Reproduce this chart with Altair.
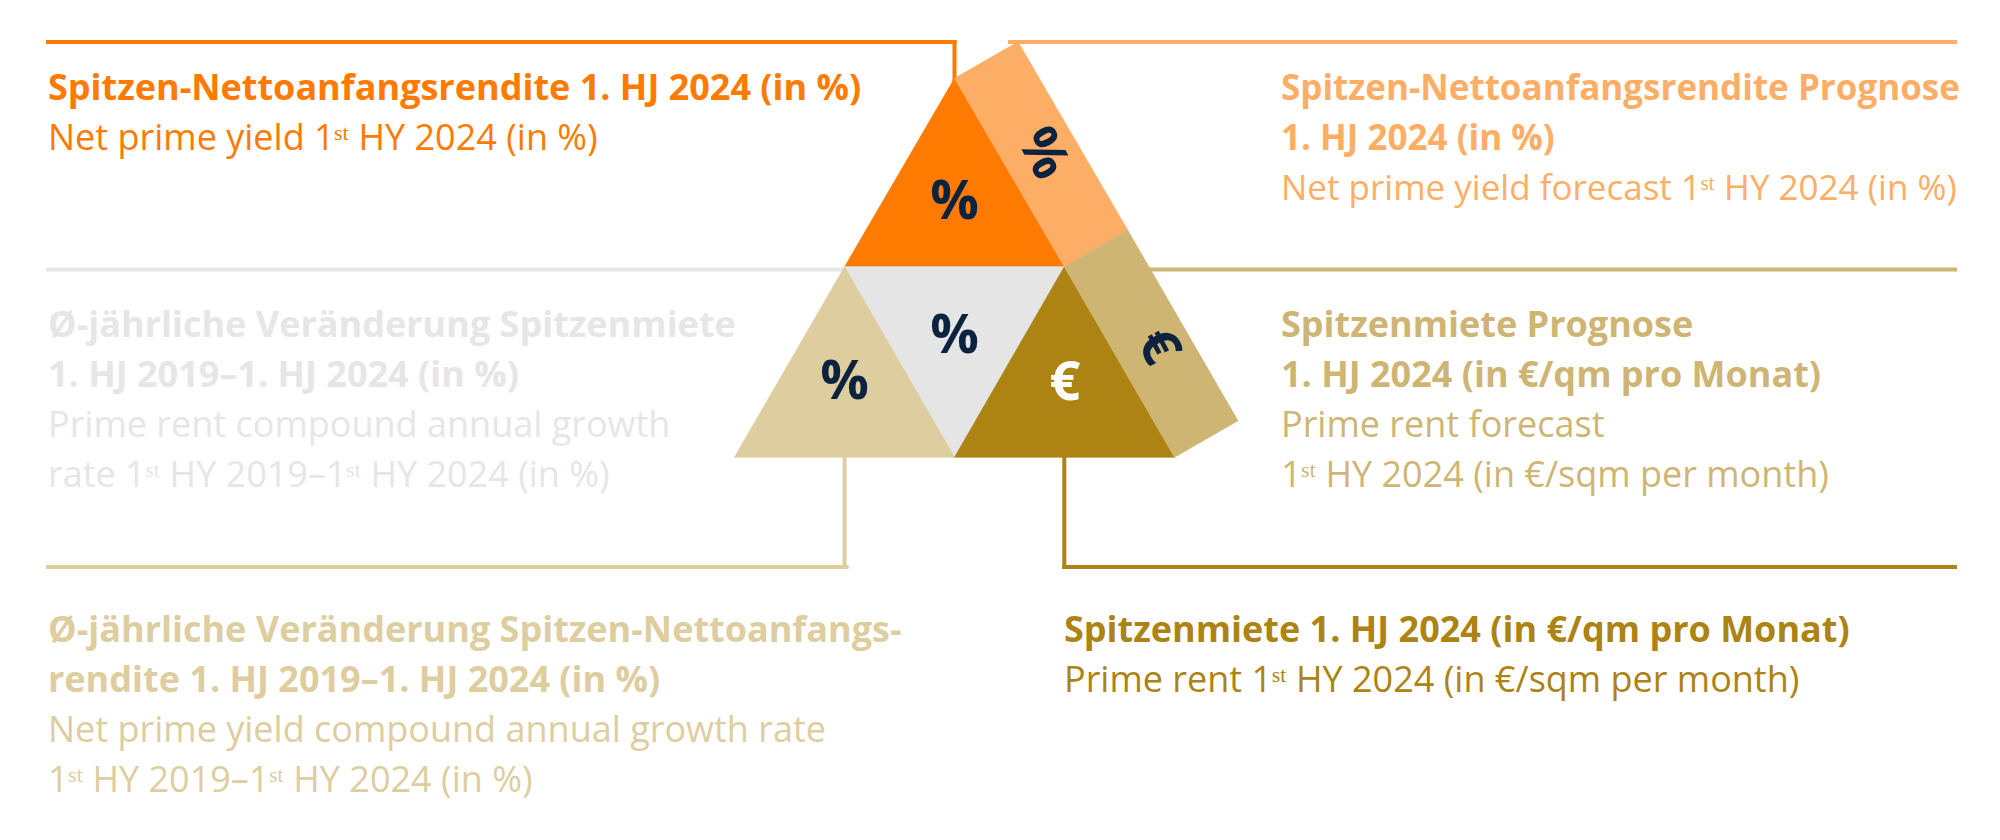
import altair as alt
import pandas as pd

# ---------------- colours ----------------
ORANGE = "#ff7a00"
LIGHT_ORANGE = "#fdae66"
LIGHT_GRAY = "#e4e5e4"
GRAY_TEXT = "#e6e6e6"
TAN = "#cfb574"
BEIGE = "#decd9f"
GOLD = "#ad8313"
NAVY = "#0c2340"

# ---------------- pyramid facets (vertex lists) ----------------
shape_names = ["top", "middle", "left", "right", "top_face", "side_face"]
shape_colors = [ORANGE, LIGHT_GRAY, BEIGE, GOLD, LIGHT_ORANGE, TAN]
shape_xs = [
    [954.5, 1064.3, 844.6],
    [844.6, 1064.3, 954.5],
    [844.6, 954.5, 734.4],
    [1064.3, 1174.5, 954.5],
    [954.5, 1018.0, 1127.8, 1064.3],
    [1064.3, 1127.8, 1238.0, 1174.5],
]
shape_ys = [
    [78.3, 266.7, 266.7],
    [266.7, 266.7, 457.3],
    [266.7, 457.3, 457.3],
    [266.7, 457.3, 457.3],
    [78.3, 41.8, 230.2, 266.7],
    [266.7, 230.2, 420.8, 457.3],
]

# ---------------- symbols on the facets ----------------
sym_text = ["%", "%", "%", "€", "%", "€"]
sym_x = [954.5, 954.5, 844.6, 1065.0, 1042.0, 1157.0]
sym_y = [203.0, 337.0, 383.0, 384.0, 154.0, 347.0]
sym_angle = [0, 0, 0, 0, 62, 62]
sym_color = [NAVY, NAVY, NAVY, "#ffffff", NAVY, NAVY]

# ---------------- connector lines ----------------
line_x1 = [48, 954.5, 1010, 48, 1100, 844.6, 48, 1064.3, 1064.3]
line_y1 = [42, 42, 42, 269.5, 269.5, 457, 567, 457, 567]
line_x2 = [954.5, 954.5, 1955, 845, 1955, 844.6, 846.6, 1064.3, 1955]
line_y2 = [42, 80, 42, 269.5, 269.5, 567, 567, 567, 567]
line_color = [ORANGE, ORANGE, LIGHT_ORANGE, GRAY_TEXT, TAN, BEIGE, BEIGE, GOLD, GOLD]

# ---------------- legend text blocks ----------------
block_x = [48, 1281, 48, 1281, 48, 1064]
block_first_baseline = [100, 100, 337, 337, 642, 642]
block_color = [ORANGE, LIGHT_ORANGE, GRAY_TEXT, TAN, BEIGE, GOLD]
block_font_size = [36, 35, 36, 36, 36, 36]
block_bold = [
    ["Spitzen-Nettoanfangsrendite 1. HJ 2024 (in %)"],
    ["Spitzen-Nettoanfangsrendite Prognose", "1. HJ 2024 (in %)"],
    ["Ø-jährliche Veränderung Spitzenmiete", "1. HJ 2019–1. HJ 2024 (in %)"],
    ["Spitzenmiete Prognose", "1. HJ 2024 (in €/qm pro Monat)"],
    ["Ø-jährliche Veränderung Spitzen-Nettoanfangs-", "rendite 1. HJ 2019–1. HJ 2024 (in %)"],
    ["Spitzenmiete 1. HJ 2024 (in €/qm pro Monat)"],
]
block_regular = [
    ["Net prime yield 1ˢᵗ HY 2024 (in %)"],
    ["Net prime yield forecast 1ˢᵗ HY 2024 (in %)"],
    ["Prime rent compound annual growth", "rate 1ˢᵗ HY 2019–1ˢᵗ HY 2024 (in %)"],
    ["Prime rent forecast", "1ˢᵗ HY 2024 (in €/sqm per month)"],
    ["Net prime yield compound annual growth rate", "1ˢᵗ HY 2019–1ˢᵗ HY 2024 (in %)"],
    ["Prime rent 1ˢᵗ HY 2024 (in €/sqm per month)"],
]
LINE_STEP = 50
FONT = "Open Sans"

# ---------------- build tables ----------------
poly_rows = []
for name, col, xs_, ys_ in zip(shape_names, shape_colors, shape_xs, shape_ys):
    for k, (px, py) in enumerate(zip(xs_, ys_)):
        poly_rows.append({"shape": name, "k": k, "x": px, "y": py, "color": col})
poly_df = pd.DataFrame(poly_rows)

sym_df = pd.DataFrame({"t": sym_text, "x": sym_x, "y": sym_y,
                       "angle": sym_angle, "color": sym_color})

line_df = pd.DataFrame({"x": line_x1, "y": line_y1, "x2": line_x2,
                        "y2": line_y2, "color": line_color})

bold_rows, reg_rows = [], []
for bx, by, bc, fs, bl, rl in zip(block_x, block_first_baseline, block_color,
                                  block_font_size, block_bold, block_regular):
    i = 0
    for t in bl:
        bold_rows.append({"x": bx, "y": by + i * LINE_STEP, "t": t, "color": bc, "fs": fs})
        i += 1
    for t in rl:
        reg_rows.append({"x": bx, "y": by + i * LINE_STEP, "t": t, "color": bc, "fs": fs})
        i += 1
bold_df = pd.DataFrame(bold_rows)
reg_df = pd.DataFrame(reg_rows)

# ---------------- scales: reference pixel space ----------------
xs = alt.Scale(domain=[8, 1992], nice=False, zero=False)
ys = alt.Scale(domain=[8, 832], nice=False, zero=False, reverse=True)
X = lambda f: alt.X(f, type="quantitative", scale=xs, axis=None)
Y = lambda f: alt.Y(f, type="quantitative", scale=ys, axis=None)

lines = alt.Chart(line_df).mark_rule(strokeWidth=4, strokeCap="square").encode(
    x=X("x"), y=Y("y"), x2="x2", y2="y2",
    color=alt.Color("color:N", scale=None),
)

polys = alt.Chart(poly_df).mark_line(interpolate="linear-closed", strokeWidth=0.6).encode(
    x=X("x"), y=Y("y"),
    detail="shape:N",
    order="k:Q",
    stroke=alt.Stroke("color:N", scale=None),
    fill=alt.Fill("color:N", scale=None),
)

symbols = alt.Chart(sym_df).mark_text(
    font=FONT, fontWeight="bold", fontSize=54, align="center", baseline="middle"
).encode(
    x=X("x"), y=Y("y"), text="t:N",
    angle=alt.Angle("angle:Q", scale=None),
    color=alt.Color("color:N", scale=None),
)

bold_text = alt.Chart(bold_df).mark_text(
    font=FONT, fontWeight="bold", align="left", baseline="alphabetic"
).encode(
    x=X("x"), y=Y("y"), text="t:N",
    size=alt.Size("fs:Q", scale=None),
    color=alt.Color("color:N", scale=None),
)

reg_text = alt.Chart(reg_df).mark_text(
    font=FONT, fontWeight="normal", align="left", baseline="alphabetic"
).encode(
    x=X("x"), y=Y("y"), text="t:N",
    size=alt.Size("fs:Q", scale=None),
    color=alt.Color("color:N", scale=None),
)

chart = alt.layer(lines, polys, symbols, bold_text, reg_text).properties(
    width=1984, height=824, padding=0, autosize=alt.AutoSizeParams(type="none"),
    background="#ffffff",
).configure_view(strokeWidth=0)

chart.save("out.html", embed_options={"renderer": "svg", "actions": False})
